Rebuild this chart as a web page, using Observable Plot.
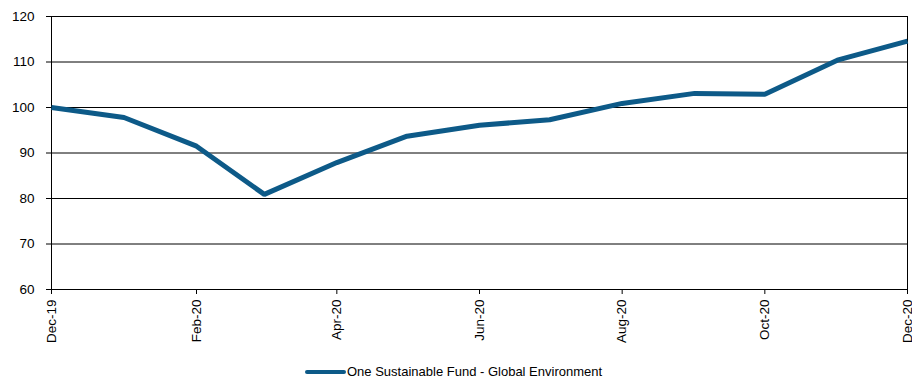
<!DOCTYPE html>
<html>
<head>
<meta charset="utf-8">
<script src="https://cdn.jsdelivr.net/npm/d3@7"></script>
<script src="https://cdn.jsdelivr.net/npm/@observablehq/plot@0.6"></script>
<style>
  body { margin: 0; background: #fff; font-family: "Liberation Sans", Arial, sans-serif; }
  #chart { position: relative; width: 912px; height: 382px; }
  #legend { position: absolute; left: 305px; top: 364px; font-size: 13px; color: #000; display: flex; align-items: center; white-space: nowrap; }
  #legend .sw { width: 41px; height: 4px; background: #0d5a88; border-radius: 2px; margin-right: 1px; }
</style>
</head>
<body>
<div id="chart"></div>
<script>
const months = ["2019-12","2020-01","2020-02","2020-03","2020-04","2020-05","2020-06","2020-07","2020-08","2020-09","2020-10","2020-11","2020-12"];
const values = [100, 97.8, 91.5, 80.9, 87.9, 93.7, 96.1, 97.3, 100.9, 103.1, 102.9, 110.4, 114.6];
const tickMonths = ["2019-12","2020-02","2020-04","2020-06","2020-08","2020-10","2020-12"];
const tickLabels = ["Dec-19","Feb-20","Apr-20","Jun-20","Aug-20","Oct-20","Dec-20"];
const yTicks = [60, 70, 80, 90, 100, 110, 120];
const seriesName = "One Sustainable Fund - Global Environment";

const parse = d3.utcParse("%Y-%m");
const data = months.map((m, i) => ({date: parse(m), value: values[i]}));
const tickDates = tickMonths.map(parse);
const labelOf = new Map(tickDates.map((d, i) => [+d, tickLabels[i]]));

const plot = Plot.plot({
  width: 912,
  height: 352,
  marginLeft: 51,
  marginRight: 5,
  marginTop: 16,
  marginBottom: 63,
  style: {fontFamily: "Liberation Sans, Arial, sans-serif", fontSize: "13.5px", color: "#000", background: "#fff"},
  x: {type: "utc", domain: [data[0].date, data[data.length - 1].date]},
  y: {domain: [60, 120]},
  marks: [
    Plot.gridY(yTicks, {stroke: "#000", strokeOpacity: 1, strokeWidth: 1}),
    Plot.frame({stroke: "#000", strokeWidth: 1}),
    Plot.axisY(yTicks, {tickSize: 5, tickPadding: 12, stroke: "#000", label: null, fontSize: 13.5}),
    Plot.axisX(tickDates, {tickSize: 5, tickPadding: 5, tickRotate: -90, stroke: "#000", label: null, fontSize: 13.5,
      tickFormat: d => labelOf.get(+d)}),
    Plot.line(data, {x: "date", y: "value", stroke: "#0d5a88", strokeWidth: 5, strokeLinejoin: "miter", strokeLinecap: "butt"})
  ]
});
document.getElementById("chart").appendChild(plot);
const leg = document.createElement("div");
leg.id = "legend";
leg.innerHTML = `<span class="sw"></span><span></span>`;
leg.lastChild.textContent = seriesName;
document.getElementById("chart").appendChild(leg);
</script>
</body>
</html>
